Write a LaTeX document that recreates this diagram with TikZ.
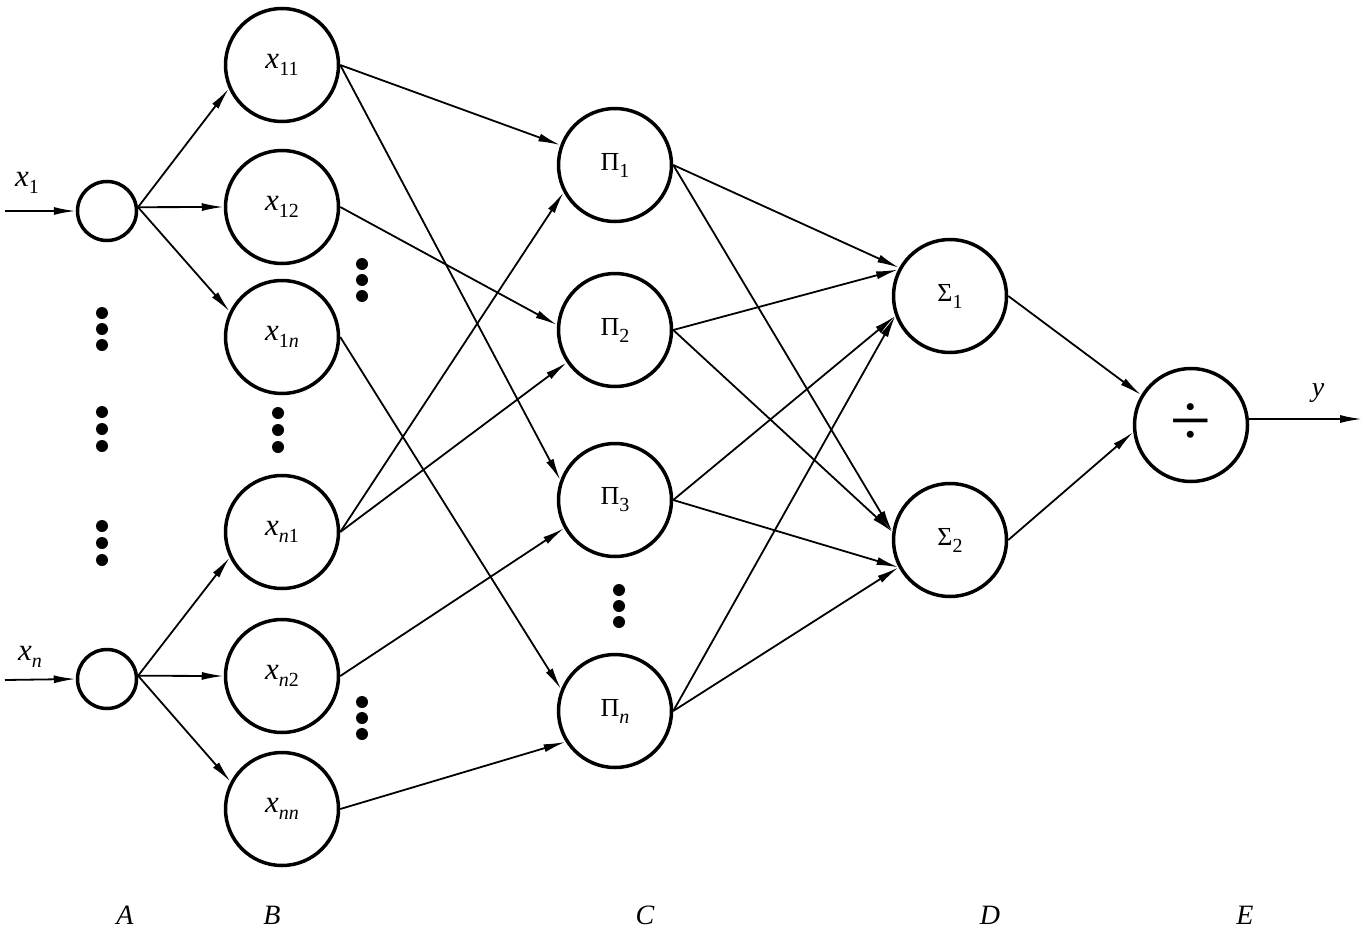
\documentclass[tikz,border=0pt]{standalone}
\usepackage{fontspec}
\setmainfont{Liberation Serif}
\usetikzlibrary{arrows.meta}
\newcommand\sbs[1]{\raisebox{-7pt}{\fontsize{20}{20}\selectfont #1}}
\newcommand\vx{{\fontsize{31}{31}\selectfont\itshape x}}
\newcommand\gk[1]{{\fontsize{26}{26}\selectfont #1}}
\begin{document}
\begin{tikzpicture}[x=1pt,y=-1pt,
  big/.style={circle,draw,line width=3.5pt,minimum size=113pt,inner sep=0pt,font=\fontsize{26}{30}\selectfont},
  small/.style={circle,draw,line width=3.5pt,minimum size=59pt,inner sep=0pt},
  conn/.style={line width=1.8pt,-{Latex[length=22pt,width=8pt]}},
  dotm/.style={circle,fill,inner sep=0pt,minimum size=12pt},
  lab/.style={font=\fontsize{28}{32}\selectfont\itshape}]
\useasboundingbox (0,0) rectangle (1364,931);
% layer A
\node[small] (a1) at (107,211) {};
\node[small] (a2) at (107,679) {};
% layer B
\node[big] (b11) at (282,65) {\vx\sbs{11}};
\node[big] (b12) at (282,207) {\vx\sbs{12}};
\node[big] (b1n) at (282,337) {\vx\sbs{1\itshape n}};
\node[big] (bn1) at (282,532) {\vx\sbs{\itshape n\upshape 1}};
\node[big] (bn2) at (282,676) {\vx\sbs{\itshape n\upshape 2}};
\node[big] (bnn) at (282,809) {\vx\sbs{\itshape nn}};
% layer C
\node[big] (c1) at (615,165) {\gk{Π}\sbs{1}};
\node[big] (c2) at (615,330) {\gk{Π}\sbs{2}};
\node[big] (c3) at (615,500) {\gk{Π}\sbs{3}};
\node[big] (cn) at (615,711) {\gk{Π}\sbs{\itshape n}};
% layer D
\node[big] (d1) at (950,296) {\gk{Σ}\sbs{1}};
\node[big] (d2) at (950,540) {\gk{Σ}\sbs{2}};
% layer E
\node[big,font=\fontsize{74}{74}\selectfont] (e) at (1191,425) {÷};
% inputs / output
\coordinate (in1) at (5,211);
\coordinate (inn) at (5,680);
\coordinate (out) at (1362,419);
\node[lab] (lx1) at (27,183) {\vx\sbs{\upshape 1}};
\node[lab] (lxn) at (30,657) {\vx\sbs{n}};
\node[lab] (ly) at (1318,393) {y};
\draw[conn] (in1) -- (a1.west);
\draw[conn] (inn) -- (a2.west);
\draw[conn] (e.6) -- (out);
% A -> B
\draw[conn] (a1.7) -- (b11.204);
\draw[conn] (a1.7) -- (b12.west);
\draw[conn] (a1.7) -- (b1n.154);
\draw[conn] (a2.6) -- (bn1.206);
\draw[conn] (a2.6) -- (bn2.west);
\draw[conn] (a2.6) -- (bnn.152);
% B -> C
\draw[conn] (b11.east) -- (c1.160);
\draw[conn] (b11.east) -- (c3.160);
\draw[conn] (b12.east) -- (c2.175);
\draw[conn] (b1n.east) -- (cn.158);
\draw[conn] (bn1.east) -- (c1.208);
\draw[conn] (bn1.east) -- (c2.214);
\draw[conn] (bn2.east) -- (c3.209);
\draw[conn] (bnn.east) -- (cn.212);
% C -> D
\draw[conn] (c1.east) -- (d1.151);
\draw[conn] (c2.east) -- (d1.153);
\draw[conn] (c3.east) -- (d1.200);
\draw[conn] (cn.east) -- (d1.200);
\draw[conn] (c1.east) -- (d2.172);
\draw[conn] (c2.east) -- (d2.172);
\draw[conn] (c3.east) -- (d2.208);
\draw[conn] (cn.east) -- (d2.208);
% D -> E
\draw[conn] (d1.east) -- (e.149);
\draw[conn] (d2.east) -- (e.187);
% ellipsis dots
\foreach \yy in {313,329,345,412,429,446,526,543,560} \node[dotm] at (102,\yy) {};
\foreach \yy in {413,430,447} \node[dotm] at (278,\yy) {};
\foreach \yy in {264,280,296} \node[dotm] at (362,\yy) {};
\foreach \yy in {702,718,734} \node[dotm] at (362,\yy) {};
\foreach \yy in {590,606,622} \node[dotm] at (619,\yy) {};
% layer labels
\node[lab] (la) at (125,915) {A};
\node[lab] (lb) at (272,915) {B};
\node[lab] (lc) at (645,915) {C};
\node[lab] (ld) at (990,915) {D};
\node[lab] (le) at (1245,915) {E};
\end{tikzpicture}
\end{document}
